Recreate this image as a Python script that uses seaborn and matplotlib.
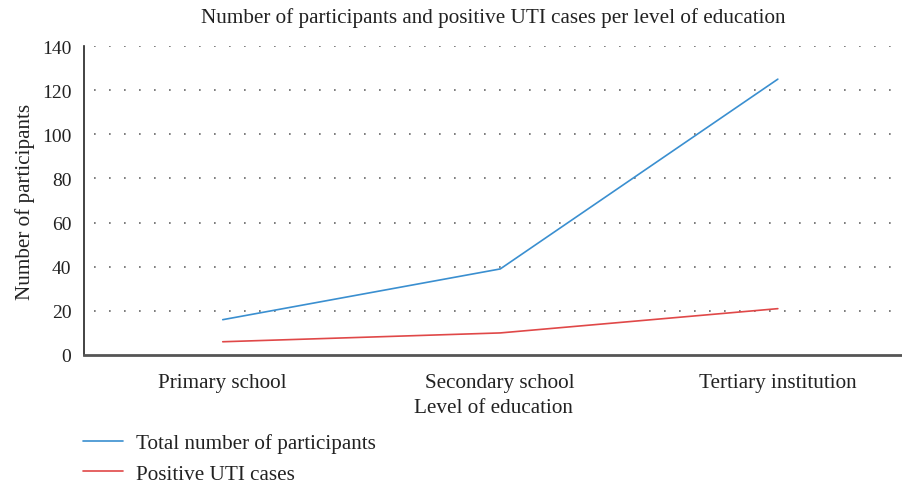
import matplotlib
matplotlib.use("Agg")
import matplotlib.pyplot as plt
import seaborn as sns
import pandas as pd

categories = ["Primary school", "Secondary school", "Tertiary institution"]
total_participants = [16, 39, 125]
positive_uti = [6, 10, 21]
series_names = ["Total number of participants", "Positive UTI cases"]
y_ticks = [0, 20, 40, 60, 80, 100, 120, 140]

sns.set_style("white")
plt.rcParams["font.family"] = ["Liberation Serif", "DejaVu Serif"]
plt.rcParams["font.size"] = 15

df = pd.DataFrame({
    "pos": list(range(len(categories))) * 2,
    "value": total_participants + positive_uti,
    "series": [series_names[0]] * 3 + [series_names[1]] * 3,
})

fig = plt.figure(figsize=(9.03, 4.85), dpi=100)
ax = fig.add_axes([0.093, 0.266, 0.907, 0.637])

sns.lineplot(data=df, x="pos", y="value", hue="series",
             palette={series_names[0]: "#3a8fd0", series_names[1]: "#e04848"},
             linewidth=1.2, ax=ax, legend=False)

ax.set_xlim(-0.5, 2.451)
ax.set_ylim(0, 140)
ax.set_yticks(y_ticks)
ax.set_xticks(range(len(categories)))
ax.set_xticklabels(categories)
ax.tick_params(axis="both", length=0, colors="#222222")
ax.tick_params(axis="x", pad=13, labelsize=15.2)
ax.tick_params(axis="y", pad=9, labelsize=14)

for y in y_ticks[1:]:
    ax.axhline(y, color="#666666", linewidth=1.2, linestyle=(3, (1, 8)), zorder=0)

for s in ["top", "right"]:
    ax.spines[s].set_visible(False)
ax.spines["left"].set_color("#222222")
ax.spines["left"].set_linewidth(1.2)
ax.spines["bottom"].set_color("#555555")
ax.spines["bottom"].set_linewidth(2)

ax.set_xlabel("Level of education", fontsize=15.2, color="#222222", labelpad=4)
ax.set_ylabel("Number of participants", fontsize=15.2, color="#222222", labelpad=5)
ax.set_title("Number of participants and positive UTI cases per level of education",
             fontsize=15.2, color="#222222", pad=17)

handles = [plt.Line2D([], [], color="#3a8fd0", linewidth=1.2),
           plt.Line2D([], [], color="#e04848", linewidth=1.2)]
fig.legend(handles, series_names, loc="upper left", bbox_to_anchor=(0.092, 0.104),
           frameon=False, handlelength=1.9, handletextpad=0.6, labelspacing=0.5,
           fontsize=15.2, borderaxespad=0, borderpad=0, labelcolor="#222222")

fig.savefig("out.png", dpi=100)
